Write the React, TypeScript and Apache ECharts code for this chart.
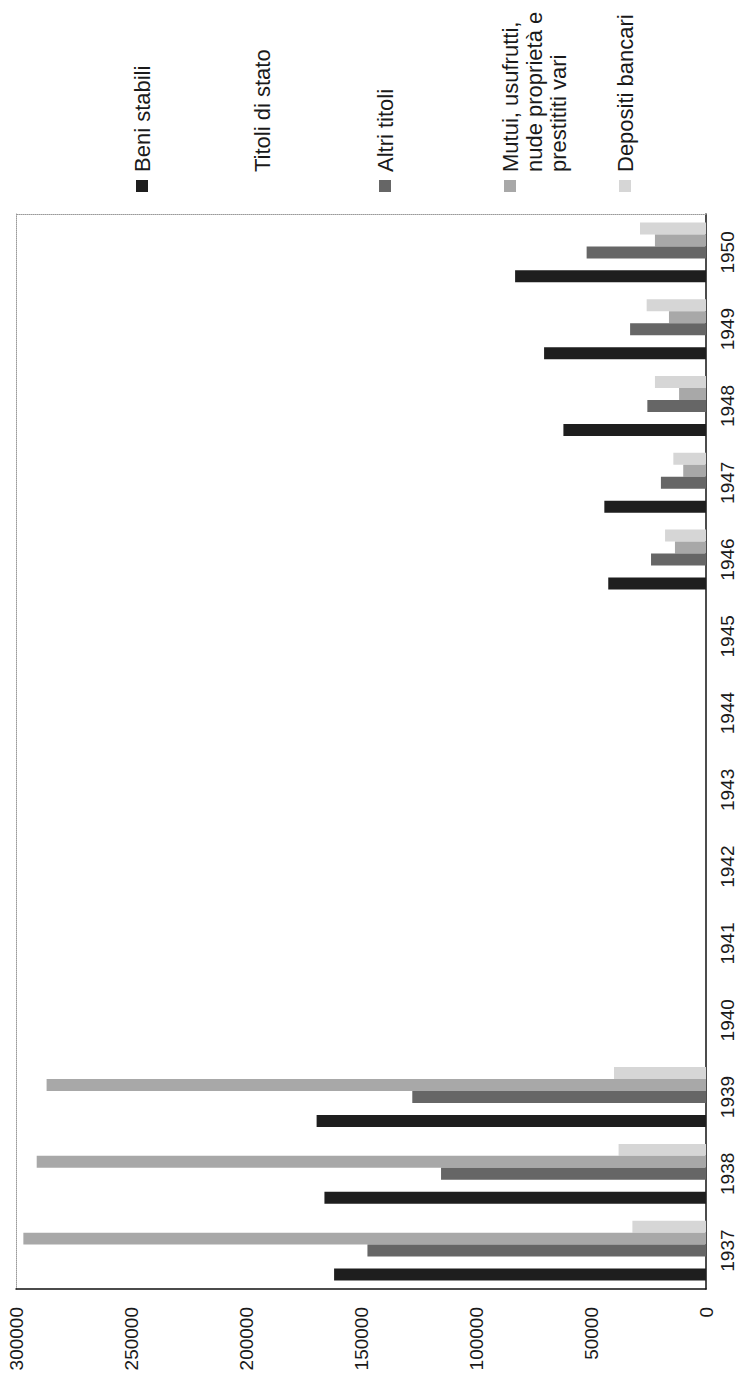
import React, { useEffect, useRef } from "react";
import * as echarts from "echarts";

const years = ["1937", "1938", "1939", "1940", "1941", "1942", "1943", "1944", "1945", "1946", "1947", "1948", "1949", "1950"];
const valueTicks = { min: 0, max: 300000, interval: 50000 };

const beniStabili = [161700, 165900, 169300, null, null, null, null, null, null, 42500, 44200, 62000, 70400, 83000];
const titoliDiStato = [null, null, null, null, null, null, null, null, null, null, null, null, null, null];
const altriTitoli = [147200, 115200, 127700, null, null, null, null, null, null, 23900, 19600, 25500, 33000, 51900];
const mutui = [296800, 291000, 286700, null, null, null, null, null, null, 13500, 9900, 11700, 16100, 22200];
const depositi = [32000, 38000, 40000, null, null, null, null, null, null, 17800, 14200, 22200, 25800, 28700];

const seriesNames = ["Beni stabili", "Titoli di stato", "Altri titoli", "Mutui, usufrutti,\nnude proprietà e\nprestititi vari", "Depositi bancari"];
const seriesColors = ["#1e1e1e", "#ffffff", "#666666", "#a8a8a8", "#d6d6d6"];
const seriesData = [beniStabili, titoliDiStato, altriTitoli, mutui, depositi];

const FONT = "'Liberation Sans', Arial, Helvetica, sans-serif";

export default function App() {
  const ref = useRef<HTMLDivElement>(null);

  useEffect(() => {
    if (!ref.current) return;
    const chart = echarts.init(ref.current, undefined, { renderer: "svg" });

    const legendX = [142, 262, 385, 510, 625];
    const legendY = 186;
    const legendGraphics = seriesNames.map((name, i) => ({
      type: "group",
      x: legendX[i],
      y: legendY,
      rotation: Math.PI / 2,
      children: [
        {
          type: "rect",
          shape: { x: -6, y: -6, width: 12, height: 12 },
          style: { fill: seriesColors[i] },
        },
        {
          type: "text",
          x: 14,
          y: -12,
          style: {
            text: name,
            font: `22px ${FONT}`,
            fill: "#1a1a1a",
            align: "left",
            verticalAlign: "top",
            lineHeight: 24,
          },
        },
      ],
    }));

    // ECharts lays horizontal bar series from the top of the band downward,
    // so add them in reverse to get the first series at the bottom.
    const order = [4, 3, 2, 1, 0];

    chart.setOption({
      animation: false,
      backgroundColor: "#ffffff",
      grid: { left: 16, right: 34, top: 214, bottom: 93, containLabel: false },
      xAxis: [
        {
          type: "value",
          min: valueTicks.min,
          max: valueTicks.max,
          interval: valueTicks.interval,
          inverse: true,
          position: "bottom",
          axisLine: { show: true, onZero: false, lineStyle: { color: "#111111", width: 1.5 } },
          axisTick: { show: false },
          splitLine: { show: false },
          axisLabel: {
            rotate: 90,
            margin: 18,
            fontSize: 19,
            color: "#1a1a1a",
            fontFamily: FONT,
            showMinLabel: true,
            showMaxLabel: true,
            formatter: (v: number) => String(v),
          },
        },
        {
          type: "value",
          min: valueTicks.min,
          max: valueTicks.max,
          interval: valueTicks.interval,
          inverse: true,
          position: "top",
          axisLine: { show: true, onZero: false, lineStyle: { color: "#9a9a9a", width: 1, type: "dotted" } },
          axisTick: { show: false },
          splitLine: { show: false },
          axisLabel: { show: false },
        },
      ],
      yAxis: [
        {
          type: "category",
          data: years,
          position: "right",
          axisLine: { show: true, onZero: false, lineStyle: { color: "#111111", width: 1.5 } },
          axisTick: { show: false },
          axisLabel: {
            rotate: 90,
            margin: 12,
            fontSize: 19,
            color: "#1a1a1a",
            fontFamily: FONT,
          },
        },
        {
          type: "category",
          data: years,
          position: "left",
          axisLine: { show: true, onZero: false, lineStyle: { color: "#9a9a9a", width: 1, type: "dotted" } },
          axisTick: { show: false },
          axisLabel: { show: false },
        },
      ],
      series: order.map((i) => ({
        type: "bar",
        name: seriesNames[i],
        data: seriesData[i],
        xAxisIndex: 0,
        yAxisIndex: 0,
        barGap: "0%",
        barCategoryGap: "22%",
        itemStyle: { color: seriesColors[i] },
      })),
      graphic: legendGraphics,
    });

    return () => chart.dispose();
  }, []);

  return (
    <div
      ref={ref}
      style={{ position: "absolute", left: 0, top: 0, width: 740, height: 1382, background: "#fff" }}
    />
  );
}
